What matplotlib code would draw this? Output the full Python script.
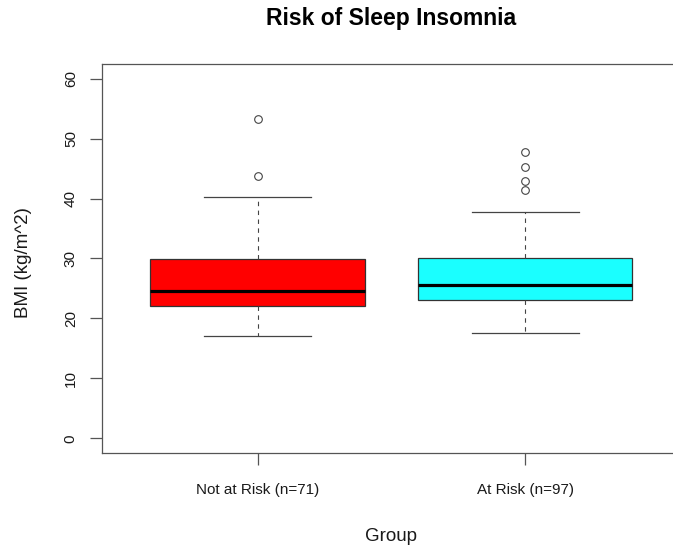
import matplotlib
matplotlib.use("Agg")
import matplotlib.pyplot as plt

plt.rcParams['font.family'] = ['Liberation Sans', 'DejaVu Sans']

# Summary statistics of BMI per group
groups = ["Not at Risk (n=71)", "At Risk (n=97)"]
whisker_low = [17.0, 17.6]
quartile_1 = [22.0, 23.1]
medians = [24.6, 25.5]
quartile_3 = [29.9, 30.0]
whisker_high = [40.3, 37.8]
outliers = [[43.8, 53.3], [41.5, 43.0, 45.2, 47.7]]
box_colors = ["#ff0000", "#1affff"]
y_ticks = [0, 10, 20, 30, 40, 50, 60]

stats = []
for i, name in enumerate(groups):
    stats.append(dict(label=name, whislo=whisker_low[i], q1=quartile_1[i],
                      med=medians[i], q3=quartile_3[i], whishi=whisker_high[i],
                      fliers=outliers[i]))

fig = plt.figure(figsize=(6.73, 5.48), dpi=100)
ax = fig.add_axes([0.152, 0.174, 0.859, 0.7087])

line_col = "#444444"
bp = ax.bxp(stats, positions=[1, 2], widths=0.8, patch_artist=True,
            boxprops=dict(edgecolor="#333333", linewidth=0.9),
            medianprops=dict(color="black", linewidth=2.3, solid_capstyle="butt"),
            whiskerprops=dict(color=line_col, linewidth=0.8, linestyle=(0, (4, 4))),
            capprops=dict(color=line_col, linewidth=0.9),
            capwidths=0.4,
            flierprops=dict(marker="o", markersize=5.5, markerfacecolor="none",
                            markeredgecolor="#444444", markeredgewidth=0.8))
for patch, c in zip(bp["boxes"], box_colors):
    patch.set_facecolor(c)

ax.set_xlim(0.42, 2.58)
ax.set_ylim(-2.4, 62.4)
ax.set_yticks(y_ticks)
ax.set_xticks([1, 2])
ax.set_xticklabels(groups)

for s in ax.spines.values():
    s.set_color("#555555")
    s.set_linewidth(0.9)

ax.tick_params(axis="both", direction="out", length=8.6, width=0.9,
               color="#555555", labelsize=11, labelcolor="#1a1a1a")
ax.tick_params(axis="x", pad=13)
ax.tick_params(axis="y", pad=9)
plt.setp(ax.get_yticklabels(), rotation=90, va="center")

ax.set_xlabel("Group", fontsize=13.5, color="#1a1a1a")
ax.xaxis.set_label_coords(0.5, -0.216)
ax.xaxis.label.set_va("center")
ax.set_ylabel("BMI (kg/m^2)", fontsize=13.5, color="#1a1a1a")
ax.yaxis.set_label_coords(-0.136, 0.49)
ax.yaxis.label.set_va("center")

ax.set_title("Risk of Sleep Insomnia", fontsize=16.5, fontweight="bold",
             x=0.5, y=1.118, va="center", pad=0)

fig.savefig("out.png", dpi=100)
